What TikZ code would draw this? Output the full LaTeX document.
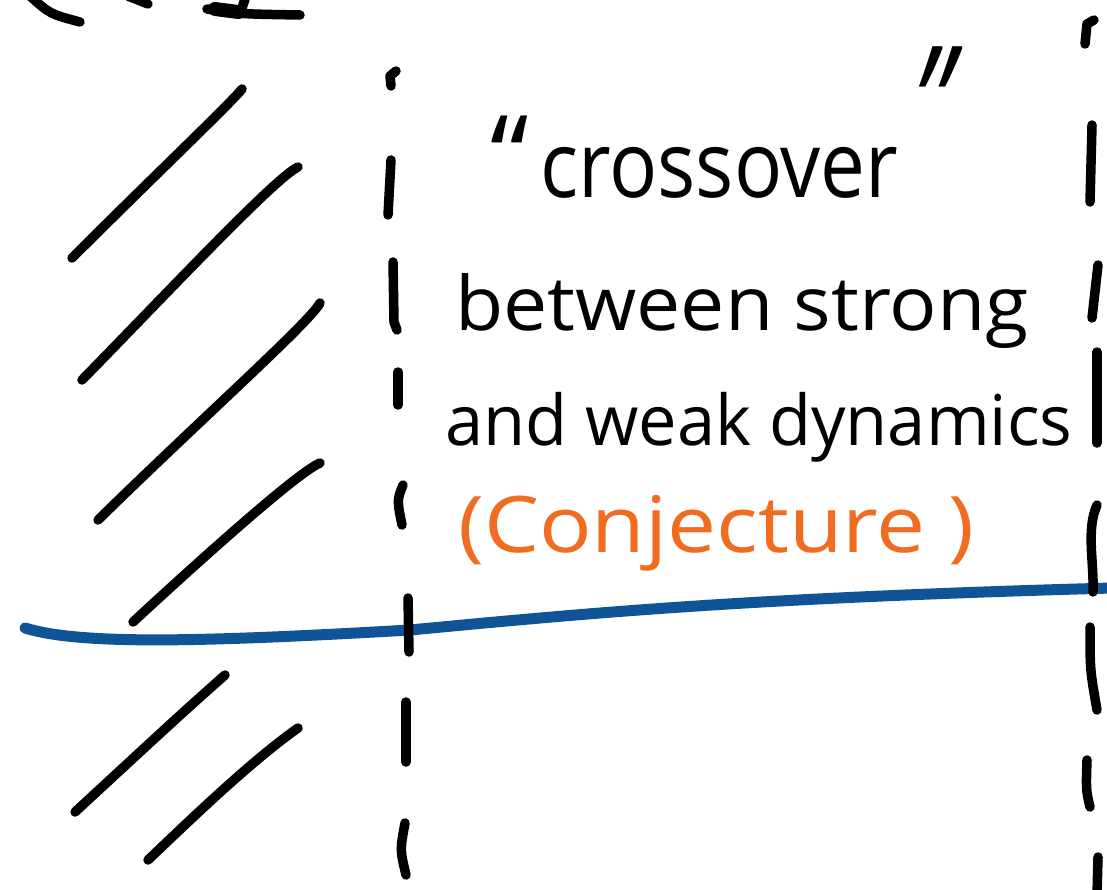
\documentclass[tikz,border=0pt]{standalone}
\usepackage{fontspec}
\setmainfont{Open Sans}
\definecolor{inkblue}{RGB}{14,84,150}
\definecolor{inkorange}{RGB}{240,108,32}
\begin{document}
\begin{tikzpicture}[x=1pt,y=-1pt,
  ink/.style={line width=9.5pt,line cap=round,line join=round,black},
  bluepen/.style={line width=11pt,line cap=round,inkblue},
  hand/.style={inner sep=0pt,anchor=base west,black}]
\useasboundingbox[fill=white] (0,0) rectangle (1107,890);

% cut-off strokes at the top left
\draw[ink] (30,-4) .. controls (50,14) .. (80,22);
\draw[ink] (128,-4) -- (148,4);
\draw[ink] (207,9) .. controls (240,14) .. (300,15);
\draw[line width=14pt,line cap=round] (215,9) -- (238,12);
\draw[ink] (246,-4) -- (240,14);

% hatching
\draw[ink] (242,89) .. controls (232,102) and (150,180) .. (72,258);
\draw[ink] (298,167) .. controls (275,178) and (170,290) .. (82,380);
\draw[ink] (320,303) .. controls (310,322) and (200,420) .. (98,520);
\draw[ink] (320,463) .. controls (298,472) and (200,560) .. (133,622);
\draw[ink] (225,675) .. controls (180,715) .. (75,812);
\draw[ink] (298,728) .. controls (250,762) and (190,820) .. (148,860);

% blue curve
\draw[bluepen] (25,628) .. controls (80,645) and (200,642) .. (410,630)
  .. controls (600,612) and (750,598) .. (1112,588);

% left dashed line
\draw[ink] (396,71) -- (390,76) -- (391,86);
\draw[ink] (391,160) -- (388,215);
\draw[ink] (393,262) -- (394,322) -- (397,330);
\draw[ink] (398,372) -- (398,405);
\draw[ink] (403,485) .. controls (397,500) .. (402,525);
\draw[ink] (408,598) -- (409,652);
\draw[ink] (406,702) -- (406,762);
\draw[ink] (405,823) .. controls (400,850) .. (406,875);

% right dashed line
\draw[ink] (1094,20) -- (1087,24) -- (1085,44);
\draw[ink] (1092,125) -- (1090,202);
\draw[ink] (1098,265) -- (1092,318);
\draw[ink] (1097,352) -- (1097,443);
\draw[ink] (1097,505) .. controls (1086,530) and (1094,560) .. (1093,592);
\draw[ink] (1090,627) .. controls (1090,670) .. (1097,710);
\draw[ink] (1087,760) .. controls (1086,790) .. (1090,807);
\draw[ink] (1098,857) -- (1097,895);

% texts
\node[hand,font=\fontsize{110}{114}\selectfont] (oq) at (490,195) {“};
\node[hand,font=\fontsize{92}{96}\selectfont,xscale=0.87] (cross) at (540,198) {crossover};
\node[hand,font=\fontsize{110}{114}\selectfont,yscale=1.5,xslant=0.3] (cq) at (902,165) {”};
\node[hand,font=\fontsize{75}{80}\selectfont,xscale=1.05] (between) at (455,330) {between strong};
\node[hand,font=\fontsize{70}{75}\selectfont,xscale=0.98] (andweak) at (445,445) {and weak dynamics};
\node[hand,text=inkorange,font=\fontsize{78}{82}\selectfont,xscale=1.12] (conj) at (458,552) {(Conjecture )};
\end{tikzpicture}
\end{document}
